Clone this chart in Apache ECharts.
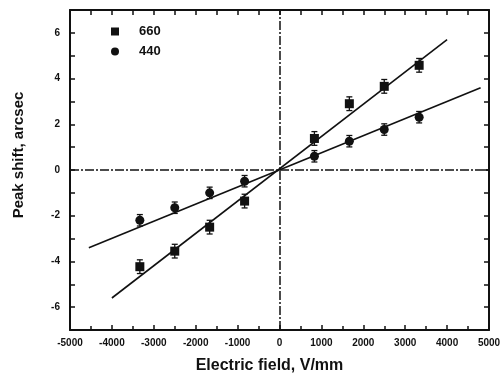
<!DOCTYPE html>
<html>
<head>
<meta charset="utf-8">
<script src="https://cdn.jsdelivr.net/npm/echarts@6/dist/echarts.min.js"></script>
<style>
  html, body { margin: 0; padding: 0; background: #fff; }
  #chart { width: 503px; height: 375px; }
</style>
</head>
<body>
<div id="chart"></div>
<script>
// electric field values of the measured points, V/mm
const fieldX = [-3333, -2500, -1667, -833, 833, 1667, 2500, 3333]
// peak shift, arcsec
const shift660 = [-4.23, -3.55, -2.5, -1.36, 1.38, 2.9, 3.66, 4.58]
const shift440 = [-2.2, -1.65, -1.0, -0.49, 0.6, 1.26, 1.77, 2.31]
const err660 = [0.3, 0.3, 0.3, 0.3, 0.3, 0.3, 0.3, 0.3]
const err440 = [0.25, 0.25, 0.25, 0.25, 0.25, 0.25, 0.25, 0.25]
// fitted lines (end points)
const fit660X = [-4000, 4000]
const fit660Y = [-5.6, 5.7]
const fit440X = [-4550, 4800]
const fit440Y = [-3.4, 3.6]

const ink = '#111'
const font = 'Liberation Sans, Arial, sans-serif'

const pts = (xs, ys) => xs.map((x, i) => [x, ys[i]])
const bars = (xs, ys, es) => xs.map((x, i) => [x, ys[i] - es[i], ys[i] + es[i]])

function errorBar(params, api) {
  const x = api.value(0)
  const lo = api.coord([x, api.value(1)])
  const hi = api.coord([x, api.value(2)])
  const w = 3
  const style = { stroke: ink, lineWidth: 1.3 }
  return {
    type: 'group',
    children: [
      { type: 'line', shape: { x1: hi[0], y1: hi[1], x2: lo[0], y2: lo[1] }, style },
      { type: 'line', shape: { x1: hi[0] - w, y1: hi[1], x2: hi[0] + w, y2: hi[1] }, style },
      { type: 'line', shape: { x1: lo[0] - w, y1: lo[1], x2: lo[0] + w, y2: lo[1] }, style }
    ]
  }
}

const chart = echarts.init(document.getElementById('chart'))

const axisCommon = {
  type: 'value',
  splitLine: { show: false },
  axisLine: { show: true, onZero: false, lineStyle: { color: ink, width: 2 } },
  axisTick: { show: true, inside: true, length: 5, lineStyle: { color: ink, width: 1.5 } }
}

chart.setOption({
  backgroundColor: '#fff',
  animation: false,
  grid: { left: 70, right: 14, top: 10, bottom: 45, outerBoundsMode: 'none' },
  legend: {
    orient: 'vertical',
    left: 106,
    top: 20,
    itemWidth: 8,
    itemHeight: 8,
    itemGap: 7,
    textStyle: {
      color: ink, fontFamily: font, fontWeight: 'bold', fontSize: 13,
      padding: [0, 0, 0, 15]
    },
    data: [
      { name: '660', icon: 'rect' },
      { name: '440', icon: 'circle' }
    ]
  },
  xAxis: [
    {
      ...axisCommon,
      position: 'bottom',
      min: -5000,
      max: 5000,
      interval: 1000,
      minorTick: { show: true, splitNumber: 2, length: 4, lineStyle: { color: ink, width: 1.5 } },
      axisLabel: {
        color: ink, fontFamily: font, fontWeight: 'bold', fontSize: 10, margin: 8,
        formatter: v => String(v)
      },
      name: 'Electric field, V/mm',
      nameLocation: 'middle',
      nameGap: 28,
      nameTextStyle: {
        color: ink, fontFamily: font, fontWeight: 'bold', fontSize: 16,
        padding: [0, 20, 0, 0]
      }
    },
    {
      ...axisCommon,
      position: 'top',
      min: -5000,
      max: 5000,
      interval: 500,
      axisLabel: { show: false }
    }
  ],
  yAxis: [
    {
      ...axisCommon,
      position: 'left',
      min: -7,
      max: 7,
      interval: 1,
      axisLabel: {
        color: ink, fontFamily: font, fontWeight: 'bold', fontSize: 10, margin: 10,
        formatter: v => (v % 2 === 0 ? String(v) : '')
      },
      name: 'Peak shift, arcsec',
      nameLocation: 'middle',
      nameGap: 44,
      nameTextStyle: {
        color: ink, fontFamily: font, fontWeight: 'bold', fontSize: 15,
        padding: [0, 0, 0, 30]
      }
    },
    {
      ...axisCommon,
      position: 'right',
      min: -7,
      max: 7,
      interval: 1,
      axisLabel: { show: false }
    }
  ],
  series: [
    {
      type: 'line',
      data: [],
      silent: true,
      markLine: {
        silent: true,
        symbol: 'none',
        label: { show: false },
        lineStyle: { color: ink, width: 1.5, type: [9, 2, 2, 2] },
        data: [{ xAxis: 0 }, { yAxis: 0 }]
      }
    },
    {
      type: 'line',
      data: pts(fit660X, fit660Y),
      symbol: 'none',
      lineStyle: { color: ink, width: 1.6 }
    },
    {
      type: 'line',
      data: pts(fit440X, fit440Y),
      symbol: 'none',
      lineStyle: { color: ink, width: 1.6 }
    },
    {
      type: 'custom',
      renderItem: errorBar,
      data: bars(fieldX, shift660, err660),
      z: 3
    },
    {
      type: 'custom',
      renderItem: errorBar,
      data: bars(fieldX, shift440, err440),
      z: 3
    },
    {
      name: '660',
      type: 'scatter',
      symbol: 'rect',
      symbolSize: 9,
      itemStyle: { color: ink, opacity: 1 },
      data: pts(fieldX, shift660),
      z: 4
    },
    {
      name: '440',
      type: 'scatter',
      symbol: 'circle',
      symbolSize: 9,
      itemStyle: { color: ink, opacity: 1 },
      data: pts(fieldX, shift440),
      z: 4
    }
  ]
})
</script>
</body>
</html>
